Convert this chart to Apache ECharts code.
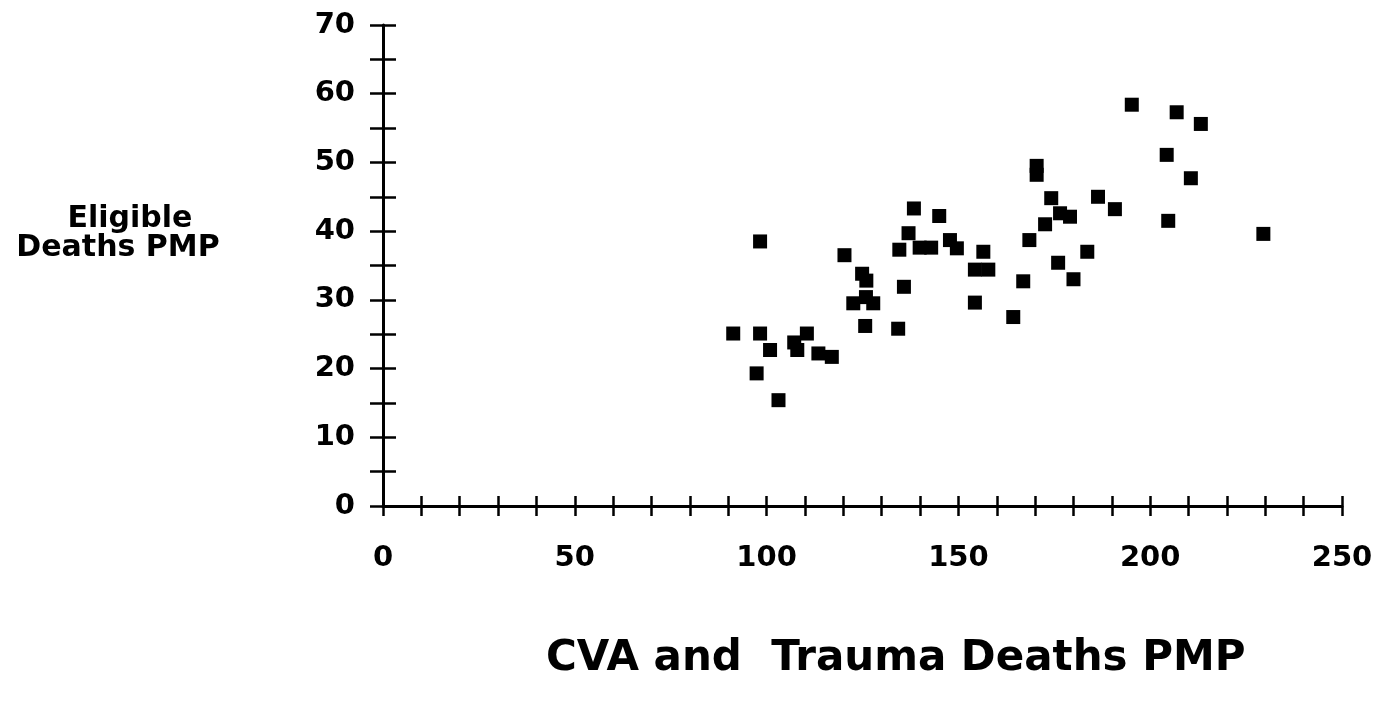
<!DOCTYPE html>
<html>
<head>
<meta charset="utf-8">
<title>Eligible Deaths PMP vs CVA and Trauma Deaths PMP</title>
<script src="https://cdn.jsdelivr.net/npm/echarts@6/dist/echarts.min.js"></script>
<style>
  html, body { margin: 0; padding: 0; background: #fff; }
  #chart_content { width: 1385px; height: 705px; }
</style>
</head>
<body>
<div id="chart_content"></div>
<script>
/** x: CVA and trauma deaths per million population */
let cvaTrauma = [
  91.3, 98.3, 98.3, 97.4, 100.9, 103.1, 107.2, 108.0, 110.5, 113.5, 117.0,
  120.3, 124.9, 126.0, 122.6, 125.9, 127.8, 125.7, 135.8, 134.3, 134.6, 137.0,
  138.4, 145.0, 139.9, 142.9, 147.8, 149.6, 156.5, 154.3, 157.8, 154.3, 164.3,
  166.9, 168.5, 170.4, 170.4, 172.6, 174.2, 176.5, 179.1, 176.0, 180.0, 183.6,
  186.4, 190.8, 195.2, 204.3, 204.7, 206.9, 210.6, 213.2, 229.5
];
/** y: eligible deaths per million population */
let eligibleDeaths = [
  25.1, 38.5, 25.1, 19.3, 22.7, 15.4, 23.8, 22.7, 25.1, 22.2, 21.7,
  36.5, 33.8, 32.8, 29.5, 30.4, 29.5, 26.2, 31.9, 25.8, 37.3, 39.7,
  43.3, 42.2, 37.6, 37.6, 38.7, 37.5, 37.0, 34.4, 34.4, 29.6, 27.5,
  32.7, 38.7, 49.5, 48.2, 41.0, 44.8, 42.6, 42.1, 35.4, 33.0, 37.0,
  45.0, 43.2, 58.4, 51.1, 41.5, 57.3, 47.7, 55.6, 39.6
];
/** axis ranges and labelled ticks */
let xRange = [0, 250];
let yRange = [0, 70];
let xLabelled = [0, 50, 100, 150, 200, 250];
let yLabelled = [0, 10, 20, 30, 40, 50, 60, 70];
let xTitle = 'CVA and  Trauma Deaths PMP';
let yTitleLines = ['Eligible', 'Deaths PMP'];

let chartDom = document.getElementById('chart_content');
let chartIns = echarts.init(chartDom);

let fontFam = '"DejaVu Sans", "Liberation Sans", Arial, sans-serif';
let axisColor = '#000';

/** axis with line + labels, no ticks */
var lineAxis = function (range, step, labelled, labelMargin) {
  return {
    type: 'value',
    min: range[0],
    max: range[1],
    interval: step,
    axisLine: { show: true, onZero: false, lineStyle: { color: axisColor, width: 3 } },
    axisTick: { show: false },
    axisLabel: {
      margin: labelMargin,
      color: '#000',
      fontFamily: fontFam,
      fontWeight: 'bold',
      fontSize: 29,
      formatter: function (v) { return labelled.indexOf(v) > -1 ? String(v) : ''; }
    },
    splitLine: { show: false }
  };
};
/** same scale pushed inward by half a tick, so its outside ticks cross the line */
var tickAxis = function (range, step, half) {
  return {
    type: 'value',
    min: range[0],
    max: range[1],
    interval: step,
    offset: -half,
    axisLine: { show: false, onZero: false },
    axisTick: { show: true, length: half * 2, lineStyle: { color: axisColor, width: 2.5 } },
    axisLabel: { show: false },
    splitLine: { show: false }
  };
};

let chartOption = {
  backgroundColor: '#fff',
  animation: false,
  grid: { left: 383, right: 43, top: 25, bottom: 199 },
  xAxis: [
    Object.assign(lineAxis(xRange, 10, xLabelled, 38), { position: 'bottom' }),
    Object.assign(tickAxis(xRange, 10, 10), { position: 'bottom' })
  ],
  yAxis: [
    Object.assign(lineAxis(yRange, 5, yLabelled, 28), { position: 'left' }),
    Object.assign(tickAxis(yRange, 5, 13), { position: 'left' })
  ],
  graphic: [
    {
      type: 'text',
      x: 130,
      y: 204,
      style: { text: yTitleLines[0], fill: '#000', font: 'bold 30px ' + fontFam, textAlign: 'center' }
    },
    {
      type: 'text',
      x: 118,
      y: 233,
      style: { text: yTitleLines[1], fill: '#000', font: 'bold 30px ' + fontFam, textAlign: 'center' }
    },
    {
      type: 'text',
      x: 546,
      y: 638,
      style: { text: xTitle, fill: '#000', font: 'bold 42px ' + fontFam }
    }
  ],
  series: [
    {
      type: 'scatter',
      xAxisIndex: 0,
      yAxisIndex: 0,
      symbol: 'rect',
      symbolSize: 14,
      itemStyle: { color: '#000', opacity: 1 },
      data: cvaTrauma.map((x, i) => [x, eligibleDeaths[i]])
    },
    {
      /** keeps the tick-only axes in use */
      type: 'scatter',
      xAxisIndex: 1,
      yAxisIndex: 1,
      symbolSize: 0,
      silent: true,
      data: [[xRange[0], yRange[0]]]
    }
  ]
};

chartIns.setOption(chartOption);
</script>
</body>
</html>
